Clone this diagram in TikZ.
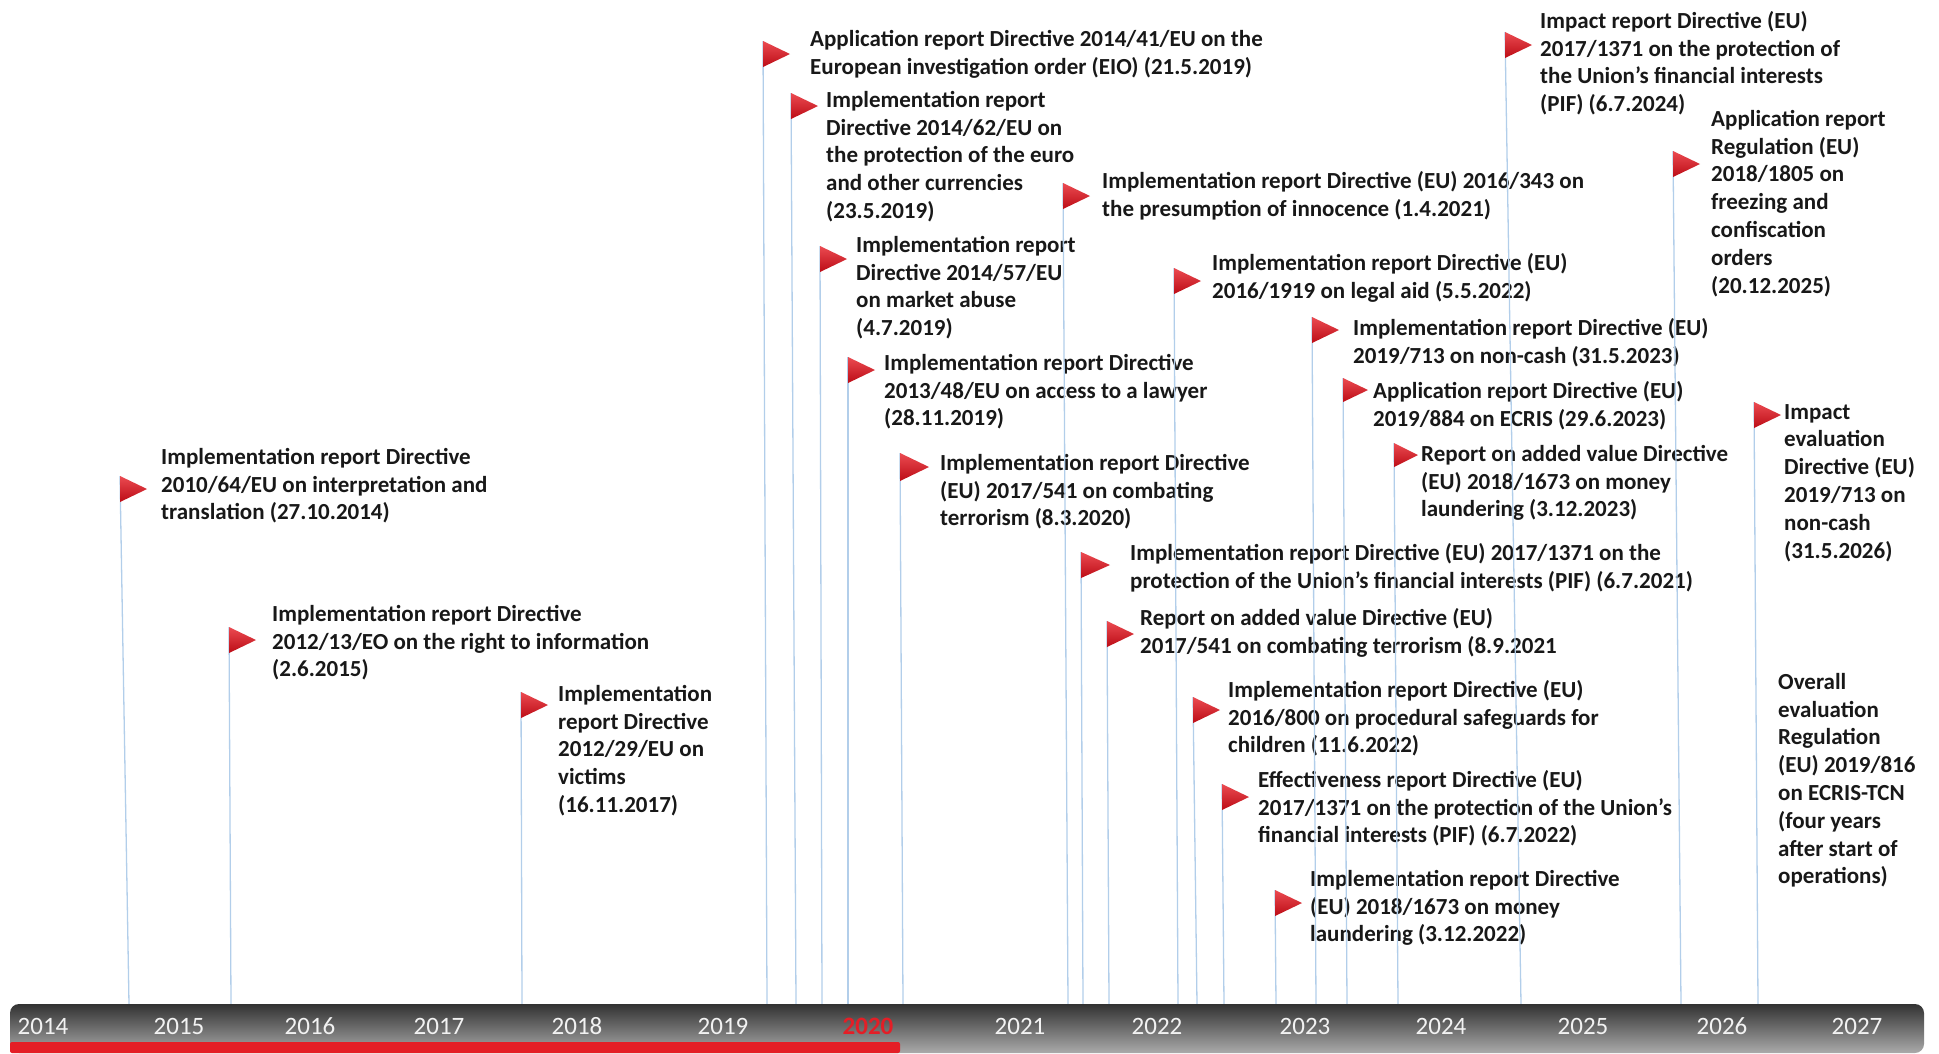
\documentclass[tikz,border=0pt]{standalone}
\usepackage{fontspec}
\setmainfont{Carlito}
\usepackage{tikz}

\definecolor{flagred}{RGB}{230,30,38}
\definecolor{flagdark}{RGB}{188,12,22}
\definecolor{polecol}{RGB}{178,206,234}
\definecolor{bardark}{RGB}{50,50,50}
\definecolor{barmid}{RGB}{118,118,118}
\definecolor{barlight}{RGB}{170,170,170}
\definecolor{barred}{RGB}{228,30,38}
\definecolor{textcol}{RGB}{24,24,24}
\definecolor{yearcol}{RGB}{242,242,242}

\begin{document}
\begin{tikzpicture}[x=1pt, y=-1pt,
    pole/.style={polecol, line width=1.3pt},
    flag/.style={top color=flagred!80!white, bottom color=flagdark},
    report/.style={anchor=north west, inner sep=0pt, align=left, text=textcol,
      font=\bfseries\fontsize{23}{27.8}\selectfont},
    year/.style={text=yearcol, inner sep=0pt, font=\fontsize{25}{25}\selectfont}]
  \useasboundingbox (0,0) rectangle (1939,1053);

  % Dibujar los informes de 2014 a 2017
  \coordinate (interp-f) at (120,476); \coordinate (interp-b) at (129,1004);
  \draw[pole] (interp-f) -- (interp-b);
  \shade[flag] (interp-f) -- ++(27,13) -- ++(-27,13) -- cycle;
  \node[report] (interp) at (161,448) {Implementation report Directive\\2010/64/EU on interpretation and\\translation (27.10.2014)};

  \coordinate (info-f) at (229,627); \coordinate (info-b) at (231,1004);
  \draw[pole] (info-f) -- (info-b);
  \shade[flag] (info-f) -- ++(27,13) -- ++(-27,13) -- cycle;
  \node[report] (info) at (272,605) {Implementation report Directive\\2012/13/EO on the right to information\\(2.6.2015)};

  \coordinate (victims-f) at (521,692); \coordinate (victims-b) at (522,1004);
  \draw[pole] (victims-f) -- (victims-b);
  \shade[flag] (victims-f) -- ++(27,13) -- ++(-27,13) -- cycle;
  \node[report] (victims) at (558,685) {Implementation\\report Directive\\2012/29/EU on\\victims\\(16.11.2017)};

  % Dibujar los informes de 2019 y 2020
  \coordinate (eio-f) at (763,41); \coordinate (eio-b) at (767,1004);
  \draw[pole] (eio-f) -- (eio-b);
  \shade[flag] (eio-f) -- ++(27,13) -- ++(-27,13) -- cycle;
  \node[report] (eio) at (810,30) {Application report Directive 2014/41/EU on the\\European investigation order (EIO) (21.5.2019)};

  \coordinate (euro-f) at (791,93); \coordinate (euro-b) at (796,1004);
  \draw[pole] (euro-f) -- (euro-b);
  \shade[flag] (euro-f) -- ++(27,13) -- ++(-27,13) -- cycle;
  \node[report] (euro) at (826,91) {Implementation report\\Directive 2014/62/EU on\\the protection of the euro\\and other currencies\\(23.5.2019)};

  \coordinate (abuse-f) at (820,246); \coordinate (abuse-b) at (822,1004);
  \draw[pole] (abuse-f) -- (abuse-b);
  \shade[flag] (abuse-f) -- ++(27,13) -- ++(-27,13) -- cycle;
  \node[report] (abuse) at (856,236) {Implementation report\\Directive 2014/57/EU\\on market abuse\\(4.7.2019)};

  \coordinate (lawyer-f) at (848,357); \coordinate (lawyer-b) at (848,1004);
  \draw[pole] (lawyer-f) -- (lawyer-b);
  \shade[flag] (lawyer-f) -- ++(27,13) -- ++(-27,13) -- cycle;
  \node[report] (lawyer) at (884,354) {Implementation report Directive\\2013/48/EU on access to a lawyer\\(28.11.2019)};

  \coordinate (terror-f) at (900,453); \coordinate (terror-b) at (903,1004);
  \draw[pole] (terror-f) -- (terror-b);
  \shade[flag] (terror-f) -- ++(29,14) -- ++(-29,14) -- cycle;
  \node[report] (terror) at (940,454) {Implementation report Directive\\(EU) 2017/541 on combating\\terrorism (8.3.2020)};

  % Dibujar los informes de 2021 y 2022
  \coordinate (innoc-f) at (1063,183); \coordinate (innoc-b) at (1068,1004);
  \draw[pole] (innoc-f) -- (innoc-b);
  \shade[flag] (innoc-f) -- ++(27,13) -- ++(-27,13) -- cycle;
  \node[report] (innoc) at (1102,171) {Implementation report Directive (EU) 2016/343 on\\the presumption of innocence (1.4.2021)};

  \coordinate (pif21-f) at (1081,552); \coordinate (pif21-b) at (1083,1004);
  \draw[pole] (pif21-f) -- (pif21-b);
  \shade[flag] (pif21-f) -- ++(29,13) -- ++(-29,13) -- cycle;
  \node[report] (pif21) at (1130,543) {Implementation report Directive (EU) 2017/1371 on the\\protection of the Union’s financial interests (PIF) (6.7.2021)};

  \coordinate (terror21-f) at (1107,621); \coordinate (terror21-b) at (1109,1004);
  \draw[pole] (terror21-f) -- (terror21-b);
  \shade[flag] (terror21-f) -- ++(27,13) -- ++(-27,13) -- cycle;
  \node[report] (terror21) at (1140,608) {Report on added value Directive (EU)\\2017/541 on combating terrorism (8.9.2021};

  \coordinate (legalaid-f) at (1174,268); \coordinate (legalaid-b) at (1178,1004);
  \draw[pole] (legalaid-f) -- (legalaid-b);
  \shade[flag] (legalaid-f) -- ++(27,13) -- ++(-27,13) -- cycle;
  \node[report] (legalaid) at (1212,253) {Implementation report Directive (EU)\\2016/1919 on legal aid (5.5.2022)};

  \coordinate (children-f) at (1193,697); \coordinate (children-b) at (1197,1004);
  \draw[pole] (children-f) -- (children-b);
  \shade[flag] (children-f) -- ++(27,13) -- ++(-27,13) -- cycle;
  \node[report] (children) at (1228,680) {Implementation report Directive (EU)\\2016/800 on procedural safeguards for\\children (11.6.2022)};

  \coordinate (pif22-f) at (1222,784); \coordinate (pif22-b) at (1224,1004);
  \draw[pole] (pif22-f) -- (pif22-b);
  \shade[flag] (pif22-f) -- ++(27,13) -- ++(-27,13) -- cycle;
  \node[report] (pif22) at (1258,770) {Effectiveness report Directive (EU)\\2017/1371 on the protection of the Union’s\\financial interests (PIF) (6.7.2022)};

  \coordinate (aml22-f) at (1275,890); \coordinate (aml22-b) at (1276,1004);
  \draw[pole] (aml22-f) -- (aml22-b);
  \shade[flag] (aml22-f) -- ++(27,13) -- ++(-27,13) -- cycle;
  \node[report] (aml22) at (1310,870) {Implementation report Directive\\(EU) 2018/1673 on money\\laundering (3.12.2022)};

  % Dibujar los informes de 2023 a 2027
  \coordinate (noncash-f) at (1312,317); \coordinate (noncash-b) at (1316,1004);
  \draw[pole] (noncash-f) -- (noncash-b);
  \shade[flag] (noncash-f) -- ++(27,13) -- ++(-27,13) -- cycle;
  \node[report] (noncash) at (1353,318) {Implementation report Directive (EU)\\2019/713 on non-cash (31.5.2023)};

  \coordinate (ecris-f) at (1343,378); \coordinate (ecris-b) at (1347,1004);
  \draw[pole] (ecris-f) -- (ecris-b);
  \shade[flag] (ecris-f) -- ++(25,12) -- ++(-25,12) -- cycle;
  \node[report] (ecris) at (1373,381) {Application report Directive (EU)\\2019/884 on ECRIS (29.6.2023)};

  \coordinate (aml23-f) at (1394,443); \coordinate (aml23-b) at (1398,1004);
  \draw[pole] (aml23-f) -- (aml23-b);
  \shade[flag] (aml23-f) -- ++(24,12) -- ++(-24,12) -- cycle;
  \node[report] (aml23) at (1421,445) {Report on added value Directive\\(EU) 2018/1673 on money\\laundering (3.12.2023)};

  \coordinate (pif24-f) at (1505,32); \coordinate (pif24-b) at (1521,1004);
  \draw[pole] (pif24-f) -- (pif24-b);
  \shade[flag] (pif24-f) -- ++(27,13) -- ++(-27,13) -- cycle;
  \node[report] (pif24) at (1540,11) {Impact report Directive (EU)\\2017/1371 on the protection of\\the Union’s financial interests\\(PIF) (6.7.2024)};

  \coordinate (freezing-f) at (1673,151); \coordinate (freezing-b) at (1681,1004);
  \draw[pole] (freezing-f) -- (freezing-b);
  \shade[flag] (freezing-f) -- ++(27,13) -- ++(-27,13) -- cycle;
  \node[report] (freezing) at (1711,110) {Application report\\Regulation (EU)\\2018/1805 on\\freezing and\\confiscation\\orders\\(20.12.2025)};

  \coordinate (noncash26-f) at (1754,402); \coordinate (noncash26-b) at (1758,1004);
  \draw[pole] (noncash26-f) -- (noncash26-b);
  \shade[flag] (noncash26-f) -- ++(27,13) -- ++(-27,13) -- cycle;
  \node[report] (noncash26) at (1784,404) {Impact\\evaluation\\Directive (EU)\\2019/713 on\\non-cash\\(31.5.2026)};

  \node[report] (ecristcn) at (1778,673) {Overall\\evaluation\\Regulation\\(EU) 2019/816\\on ECRIS-TCN\\(four years\\after start of\\operations)};

  % Dibujar la barra de los años
  \shade[top color=bardark, middle color=barmid, bottom color=barlight, rounded corners=9pt]
    (10,1004) rectangle (1924,1053);
  \fill[barred, rounded corners=2pt] (10,1042) rectangle (900,1053);
  \node[year] (y2014) at (43,1026) {2014};
  \node[year] (y2015) at (179,1026) {2015};
  \node[year] (y2016) at (310,1026) {2016};
  \node[year] (y2017) at (439,1026) {2017};
  \node[year] (y2018) at (577,1026) {2018};
  \node[year] (y2019) at (723,1026) {2019};
  \node[year, text=barred, font=\bfseries\fontsize{25}{25}\selectfont] (y2020) at (868,1026) {2020};
  \node[year] (y2021) at (1020,1026) {2021};
  \node[year] (y2022) at (1157,1026) {2022};
  \node[year] (y2023) at (1305,1026) {2023};
  \node[year] (y2024) at (1441,1026) {2024};
  \node[year] (y2025) at (1583,1026) {2025};
  \node[year] (y2026) at (1722,1026) {2026};
  \node[year] (y2027) at (1857,1026) {2027};
\end{tikzpicture}
\end{document}
